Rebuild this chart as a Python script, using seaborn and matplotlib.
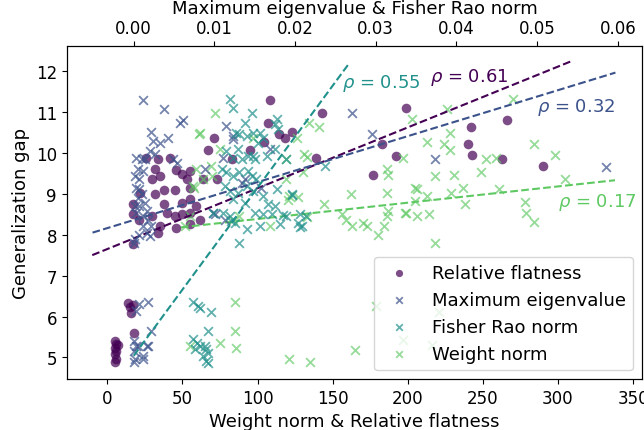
import matplotlib

matplotlib.use("Agg")
import matplotlib.pyplot as plt
import seaborn as sns

# Relative flatness (bottom axis)
rf_x = [5, 6, 5, 6, 5, 6, 5, 7,
        14, 15, 16, 17, 18, 17,
        71, 67, 26, 34, 42, 32, 30, 35, 46, 50, 55, 53, 38, 45, 55, 32, 17, 38,
        50, 17, 30, 40, 50, 55, 45, 35, 46, 34, 55, 59, 64, 73, 22, 55, 21, 62,
        108, 107, 114, 118, 123, 104, 95, 83, 143, 139, 199, 183, 192, 177,
        242, 266, 240, 243, 263, 290]
rf_y = [5.40, 5.32, 5.24, 5.16, 5.08, 4.95, 4.89, 5.30,
        6.34, 6.24, 6.09, 6.28, 5.60, 7.76,
        10.35, 10.07, 9.87, 9.86, 9.87, 9.60, 9.35, 9.43, 9.58, 9.49, 9.55, 9.37,
        9.10, 9.09, 9.13, 8.99, 8.74, 8.74, 8.78, 8.50, 8.45, 8.54, 8.50, 8.54,
        8.45, 8.21, 8.17, 8.03, 8.25, 8.70, 9.35, 9.35, 9.03, 8.86, 8.37, 8.37,
        11.30, 10.74, 10.47, 10.35, 10.50, 10.27, 10.07, 9.86, 10.98, 9.88,
        11.09, 10.22, 9.92, 9.47, 10.63, 10.80, 10.22, 9.94, 9.86, 9.68]

# Maximum eigenvalue (top axis)
me_x = [0.0, 0.0003, 0.0, 0.0001, 0.0012, 0.0018, 0.0022, 0.0007, 0.0018, 0.0003,
        0.0005, 0.0012, 0.0, 0.0016,
        0.0012, 0.0037, 0.0057, 0.0061, 0.0022, 0.0024, 0.0032, 0.0043, 0.0020,
        0.0026, 0.0003, 0.0010, 0.0014, 0.0049, 0.0054, 0.0005, 0.0001, 0.0007,
        0.0012, 0.0003, 0.0007, 0.0010, 0.0005, 0.0001, 0.0007, 0.0014, 0.0016,
        0.0003, 0.0012, 0.0018, 0.0022, 0.0012, 0.0016, 0.0007, 0.0020, 0.0,
        0.0001, 0.0088, 0.0111, 0.0115, 0.0098, 0.0101, 0.0123, 0.0123, 0.0138,
        0.0134, 0.0158, 0.0169, 0.0113, 0.0270, 0.0295, 0.0373, 0.0585]
me_y = [5.40, 5.28, 5.16, 4.95, 4.95, 5.28, 5.64, 6.30, 6.35, 6.13,
        5.28, 5.03, 4.90, 5.28,
        11.28, 11.08, 10.74, 10.80, 10.51, 10.29, 10.25, 10.35, 10.04,
        9.96, 9.88, 9.84, 9.86, 9.84, 9.76, 9.60, 9.43, 9.35,
        9.55, 9.15, 9.11, 8.99, 8.90, 8.70, 8.70, 8.78, 8.58,
        8.54, 8.45, 8.37, 8.21, 8.21, 8.05, 8.00, 7.97, 7.80,
        7.89, 9.60, 9.88, 10.66, 8.54, 8.50, 10.33, 10.41, 9.35,
        9.27, 9.15, 10.09, 8.37, 10.98, 10.45, 9.84, 9.66]

# Fisher Rao norm (top axis)
fr_x = [0.0074, 0.0080, 0.0082, 0.0096, 0.0092, 0.0074, 0.0078, 0.0082, 0.0088,
        0.0090, 0.0092, 0.0086, 0.0090, 0.0092, 0.0076,
        0.0119, 0.0123, 0.0146, 0.0138, 0.0131, 0.0140, 0.0148, 0.0177, 0.0175,
        0.0179, 0.0156, 0.0160, 0.0154, 0.0115, 0.0129, 0.0123, 0.0134, 0.0142,
        0.0148, 0.0150, 0.0165, 0.0175, 0.0189, 0.0109, 0.0115, 0.0123, 0.0131,
        0.0142, 0.0146, 0.0152, 0.0113, 0.0119, 0.0129, 0.0140, 0.0148, 0.0123,
        0.0138, 0.0160, 0.0167, 0.0175, 0.0111, 0.0119, 0.0125, 0.0150, 0.0160,
        0.0171, 0.0181, 0.0156, 0.0206, 0.0204, 0.0131, 0.0237, 0.0127, 0.0196,
        0.0185, 0.0206, 0.0098, 0.0121, 0.0140, 0.0177, 0.0196, 0.0214, 0.0208,
        0.0189]
fr_y = [6.35, 6.25, 6.21, 6.11, 5.64, 5.44, 5.36, 5.28, 5.28,
        5.20, 5.11, 5.03, 4.91, 4.87, 5.20,
        11.31, 11.10, 10.98, 10.74, 10.45, 10.41, 10.49, 10.82, 10.70,
        10.58, 10.49, 10.37, 10.25, 10.04, 10.09, 9.88, 9.84, 9.92,
        9.92, 9.84, 9.92, 10.09, 9.84, 9.60, 9.52, 9.43, 9.52,
        9.55, 9.43, 9.35, 9.19, 9.07, 9.03, 9.19, 9.07, 8.86,
        8.78, 8.94, 8.74, 8.70, 8.54, 8.45, 8.29, 8.54, 8.50,
        8.50, 8.25, 8.21, 8.50, 8.29, 7.80, 9.69, 10.49, 8.96,
        8.47, 8.18, 8.54, 8.33, 8.13, 9.11, 8.99, 8.45, 8.21,
        8.45]

# Weight norm (bottom axis)
wn_x = [55, 75, 85, 85, 86, 121, 135, 165, 179, 221, 197, 216,
        72, 62, 75, 59, 64, 70, 69, 58, 55, 52, 84, 88, 134, 141, 126, 97, 131,
        119, 121, 108, 144, 162, 156, 159, 163, 170, 173, 180, 184, 186, 187, 186,
        186, 187, 198, 206, 205, 203, 226, 270, 228, 224, 228, 213, 197, 218, 231,
        249, 252, 259, 284, 298, 305, 206, 213, 205, 229, 237, 238, 261, 199, 214,
        278, 279, 284, 218, 120, 127, 133, 130, 133, 57, 119, 61]
wn_y = [5.28, 5.36, 6.35, 5.64, 5.24, 4.95, 4.89, 5.17, 6.26, 6.10, 5.42, 5.30,
        10.98, 10.48, 10.09, 9.61, 9.35, 9.43, 9.68, 9.15, 8.45, 8.21, 8.37, 8.45,
        10.74, 10.62, 10.37, 10.37, 9.96, 9.35, 8.94, 8.21, 8.74, 8.99, 8.50, 8.37,
        8.21, 8.29, 8.21, 8.00, 8.21, 9.60, 9.47, 9.03, 8.45, 8.58, 8.54, 8.45,
        9.15, 10.82, 11.08, 11.31, 10.49, 10.22, 10.07, 10.27, 9.88, 9.43, 9.47,
        9.52, 9.84, 9.88, 10.22, 9.94, 9.35, 9.11, 8.94, 8.82, 9.03, 9.15, 8.74,
        9.11, 8.54, 8.50, 8.80, 8.54, 8.31, 7.79, 8.85, 8.92, 8.43, 9.54, 9.90,
        9.19, 9.84, 10.45]

# fitted trend lines (end points)
rf_line_x = [-10, 309]
rf_line_y = [7.50, 12.24]
me_line_x = [-0.0051, 0.0597]
me_line_y = [8.05, 11.96]
fr_line_x = [0.0, 0.0266]
fr_line_y = [5.04, 12.16]
wn_line_x = [49, 338]
wn_line_y = [8.18, 9.33]

C_RF = "#440154"
C_ME = "#3b528b"
C_FR = "#21918c"
C_WN = "#5ec962"


def main() -> None:
    fig, ax = plt.subplots(figsize=(6.44, 4.31), dpi=100)
    fig.subplots_adjust(left=0.1036, right=0.997, top=0.890, bottom=0.118)
    ax2 = ax.twiny()

    sns.scatterplot(x=rf_x, y=rf_y, ax=ax, color=C_RF, marker="o", s=48,
                    alpha=0.7, linewidth=0, label="Relative flatness")
    sns.scatterplot(x=wn_x, y=wn_y, ax=ax, color=C_WN, marker="x", s=40,
                    alpha=0.65, linewidth=1.3, label="Weight norm")
    sns.scatterplot(x=me_x, y=me_y, ax=ax2, color=C_ME, marker="x", s=40,
                    alpha=0.7, linewidth=1.3, label="Maximum eigenvalue")
    sns.scatterplot(x=fr_x, y=fr_y, ax=ax2, color=C_FR, marker="x", s=40,
                    alpha=0.7, linewidth=1.3, label="Fisher Rao norm")

    ax.plot(rf_line_x, rf_line_y, "--", color=C_RF, lw=1.5)
    ax.plot(wn_line_x, wn_line_y, "--", color=C_WN, lw=1.5)
    ax2.plot(me_line_x, me_line_y, "--", color=C_ME, lw=1.5)
    ax2.plot(fr_line_x, fr_line_y, "--", color=C_FR, lw=1.5)

    ax.text(156, 11.71, r"$\rho$ = 0.55", color=C_FR, fontsize=13, va="center")
    ax.text(215, 11.87, r"$\rho$ = 0.61", color=C_RF, fontsize=13, va="center")
    ax.text(286, 11.14, r"$\rho$ = 0.32", color=C_ME, fontsize=13, va="center")
    ax.text(300, 8.80, r"$\rho$ = 0.17", color=C_WN, fontsize=13, va="center")

    ax.set_xlim(-27, 356)
    ax2.set_xlim(-0.0083, 0.063)
    ax.set_ylim(4.47, 12.6)

    ax.set_xlabel("Weight norm & Relative flatness", fontsize=13)
    ax.set_ylabel("Generalization gap", fontsize=13)
    ax2.set_xlabel("Maximum eigenvalue & Fisher Rao norm", fontsize=13)
    ax.tick_params(labelsize=12)
    ax2.tick_params(labelsize=12)

    h1, l1 = ax.get_legend_handles_labels()
    h2, l2 = ax2.get_legend_handles_labels()
    if ax.get_legend() is not None:
        ax.get_legend().remove()
    handles = [h1[0], h2[0], h2[1], h1[1]]
    labels = [l1[0], l2[0], l2[1], l1[1]]
    ax2.legend(handles, labels, loc="lower right", fontsize=13, markerscale=0.75)

    fig.savefig("out.png", dpi=100)
    plt.close(fig)


if __name__ == "__main__":
    main()
